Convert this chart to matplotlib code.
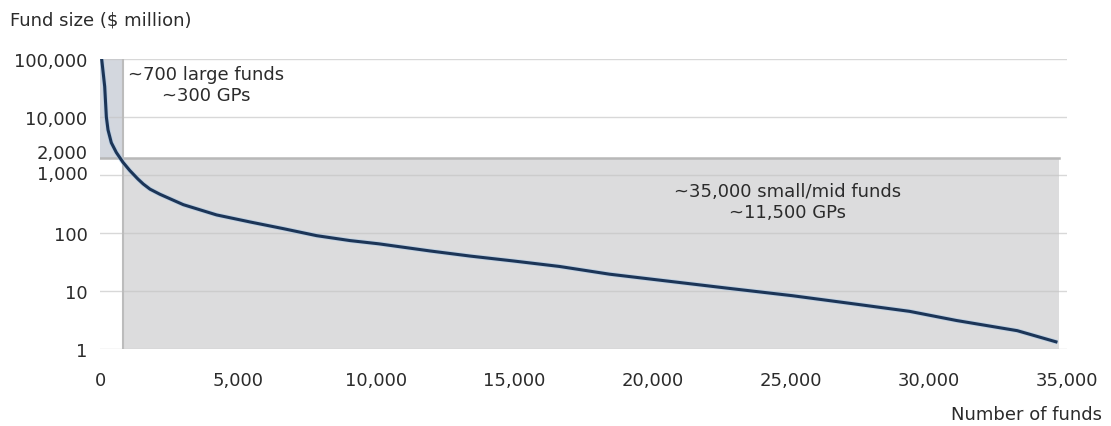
import numpy as np
import matplotlib
matplotlib.use("Agg")
import matplotlib.pyplot as plt
import matplotlib.transforms as mtransforms

# fund size by rank
funds = [60, 170, 230, 290, 410, 590, 830, 1075, 1375, 1565, 1810, 2170, 3015, 4220,
         5430, 6630, 7840, 9050, 10100, 11950, 13400, 14950, 16630, 18440, 20250,
         22700, 25060, 27400, 29300, 31000, 33200, 34600]
size_musd = [100000, 33500, 10000, 6000, 3600, 2450, 1660, 1200, 850, 700, 570, 465,
             308, 205, 155, 119, 90, 74, 65, 49, 40, 33, 26.5, 19.5, 15.4, 11.2, 8.3,
             5.9, 4.46, 3.1, 2.07, 1.33]

split_funds = 850
split_size = 2000
last_fund = 34700

yticks = [1, 10, 100, 1000, 2000, 10000, 100000]
ytick_labels = ["1", "10", "100", "1,000", "2,000", "10,000", "100,000"]
xticks = [0, 5000, 10000, 15000, 20000, 25000, 30000, 35000]
xtick_labels = ["0", "5,000", "10,000", "15,000", "20,000", "25,000", "30,000", "35,000"]

plt.rcParams["font.family"] = ["DejaVu Sans"]
txt_col = "#2b2b2b"
fs = 13

fig = plt.figure(figsize=(11.11, 4.27), dpi=100)
ax = fig.add_axes([100/1111, 77/427, 967/1111, 290/427])
ax.set_yscale("log")
ax.set_xlim(0, 35000)
ax.set_ylim(1, 100000)

# shaded regions
ax.fill_between([0, split_funds], split_size, 100000, color="#d3d7de", lw=0, zorder=1)
ax.fill_between([split_funds, last_fund], 1, split_size, color="#dcdcdd", lw=0, zorder=1)

# grid lines
for v in [1, 10, 100, 1000, 10000, 100000]:
    ax.axhline(v, color="#c4c4c4", lw=1, alpha=0.65, zorder=2)
ax.plot([0, last_fund], [split_size, split_size], color="#b8b8b8", lw=1.8, zorder=3)
ax.plot([split_funds, split_funds], [1, 100000], color="#bcbcbc", lw=1.5, zorder=3)

ax.plot(funds, size_musd, color="#9fc3e6", lw=3.4, alpha=0.5, zorder=4,
        solid_capstyle="round")
ax.plot(funds, size_musd, color="#1c3557", lw=2.2, zorder=5)

for s in ax.spines.values():
    s.set_visible(False)

ax.set_yticks(yticks)
ax.set_yticklabels(ytick_labels)
ax.yaxis.set_minor_locator(matplotlib.ticker.NullLocator())
ax.set_xticks(xticks)
ax.set_xticklabels(xtick_labels)
ax.tick_params(axis="both", length=0, labelsize=fs, labelcolor=txt_col)
ax.tick_params(axis="y", pad=9)
ax.tick_params(axis="x", pad=16)

# nudge the crowded 1,000 / 2,000 labels apart
for lab in ax.get_yticklabels():
    dy = {"2,000": 5, "1,000": 2}.get(lab.get_text())
    if dy:
        lab.set_transform(lab.get_transform() +
                          mtransforms.ScaledTranslation(0, dy/72, fig.dpi_scale_trans))

ax.text(3850, 36000, "~700 large funds\n~300 GPs", ha="center", va="center",
        fontsize=fs, color=txt_col, linespacing=1.2, zorder=6)
ax.text(24900, 350, "~35,000 small/mid funds\n~11,500 GPs", ha="center", va="center",
        fontsize=fs, color=txt_col, linespacing=1.2, zorder=6)

fig.text(10/1111, 1 - 20/427, "Fund size (\\$ million)", ha="left", va="center",
         fontsize=fs, color=txt_col)
fig.text(1102/1111, 1 - 415/427, "Number of funds", ha="right", va="center",
         fontsize=fs, color=txt_col)

plt.savefig("out.png", dpi=100)
